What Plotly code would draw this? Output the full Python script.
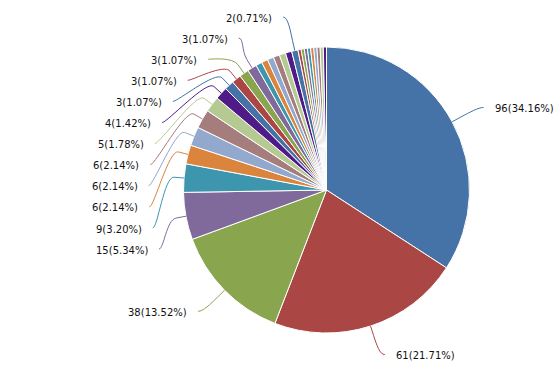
import math
import plotly.graph_objects as go

# ---- data ----
values = [96, 61, 38, 15, 9, 6, 6, 6, 5, 4, 3, 3, 3, 3,
          2, 2, 2, 2, 2, 2, 2, 1, 1, 1, 1, 1, 1, 1, 1, 1]
# which slices carry a visible data label (the rest are hidden, as in the original)
label_visible = [True] * 14 + [False] * 6 + [True] + [False] * 9
palette = ['#4572A7', '#AA4643', '#89A54E', '#80699B', '#3D96AE',
           '#DB843D', '#92A8CD', '#A47D7C', '#B5CA92', '#4F1B86']

# ---- layout constants (pixels) ----
W, H = 560, 379
CX, CY, R = 326.5, 190.0, 143.0
DIST = 30.0          # label distance from pie edge
CONN = 10.0          # connector bend offset
SLOT = 21.1          # label slot height
PAD_TXT = 14.0
FONT = dict(family="DejaVu Sans, Verdana, sans-serif", size=10, color="#111111")

total = sum(values)
colors = [palette[i % len(palette)] for i in range(len(values))]
texts = [f"{v}({v / total * 100:.2f}%)" for v in values]

fig = go.Figure()
fig.add_trace(go.Pie(
    values=values,
    sort=False,
    direction="clockwise",
    rotation=0,
    marker=dict(colors=colors, line=dict(color="white", width=1)),
    textinfo="none",
    hoverinfo="value+percent",
    showlegend=False,
    domain=dict(x=[(CX - R) / W, (CX + R) / W],
                y=[1 - (CY + R) / H, 1 - (CY - R) / H]),
))

# ---- label geometry (highcharts-like) ----
RD = R + DIST
cum = 0.0
pts = []
for i, v in enumerate(values):
    mid = (cum + v / 2) / total * 2 * math.pi
    cum += v
    s, c = math.sin(mid), -math.cos(mid)
    pts.append(dict(
        i=i, left=mid > math.pi,
        nat=(CX + RD * s, CY + RD * c),
        bend=(CX + (R + CONN) * s, CY + (R + CONN) * c),
        edge=(CX + R * s, CY + R * c),
    ))


def get_x(y, left):
    ratio = max(-1.0, min(1.0, (y - CY) / RD))
    dx = math.cos(math.asin(ratio)) * RD
    return CX - dx if left else CX + dx


slots = []
y0 = CY - RD
while y0 <= CY + RD + 0.1:
    slots.append(y0)
    y0 += SLOT

placed = []
left_pts = sorted([p for p in pts if p["left"] and label_visible[p["i"]]],
                  key=lambda p: p["nat"][1])
used = {}
last = -1
for p in left_pts:
    best = min(range(last + 1, len(slots)), key=lambda k: abs(slots[k] - p["nat"][1]))
    used[best] = p
    last = best
for k, p in used.items():
    crowded = (k - 1 in used) or (k + 1 in used)
    y = slots[k] if crowded else p["nat"][1]
    x = get_x(p["nat"][1] if k == 0 else y, True)
    placed.append((p, x, y))
for p in pts:
    if not p["left"] and label_visible[p["i"]]:
        placed.append((p, p["nat"][0], p["nat"][1]))

shapes = []
annotations = []
for p, x, y in placed:
    left = p["left"]
    bx, by = p["bend"]
    ex, ey = p["edge"]
    sx = x - 5 if left else x + 5
    path = (f"M {sx:.2f},{y:.2f} C {x:.2f},{y:.2f} {2 * bx - ex:.2f},{2 * by - ey:.2f} "
            f"{bx:.2f},{by:.2f} L {ex:.2f},{ey:.2f}")
    shapes.append(dict(type="path", path=path, xref="x", yref="y",
                       line=dict(color=colors[p["i"]], width=1), layer="above"))
    annotations.append(dict(
        x=x - PAD_TXT if left else x + PAD_TXT, y=y + 1, xref="x", yref="y",
        text=texts[p["i"]], showarrow=False,
        xanchor="right" if left else "left", yanchor="middle",
        font=FONT,
    ))

fig.update_layout(
    width=W, height=H,
    margin=dict(l=0, r=0, t=0, b=0),
    paper_bgcolor="white", plot_bgcolor="rgba(0,0,0,0)",
    xaxis=dict(range=[0, W], visible=False, fixedrange=True),
    yaxis=dict(range=[H, 0], visible=False, fixedrange=True),
    shapes=shapes,
    annotations=annotations,
)

fig.write_html("out.html",
               config={"displayModeBar": False},
               post_script="document.body.style.margin='0';document.body.style.overflow='hidden';")
